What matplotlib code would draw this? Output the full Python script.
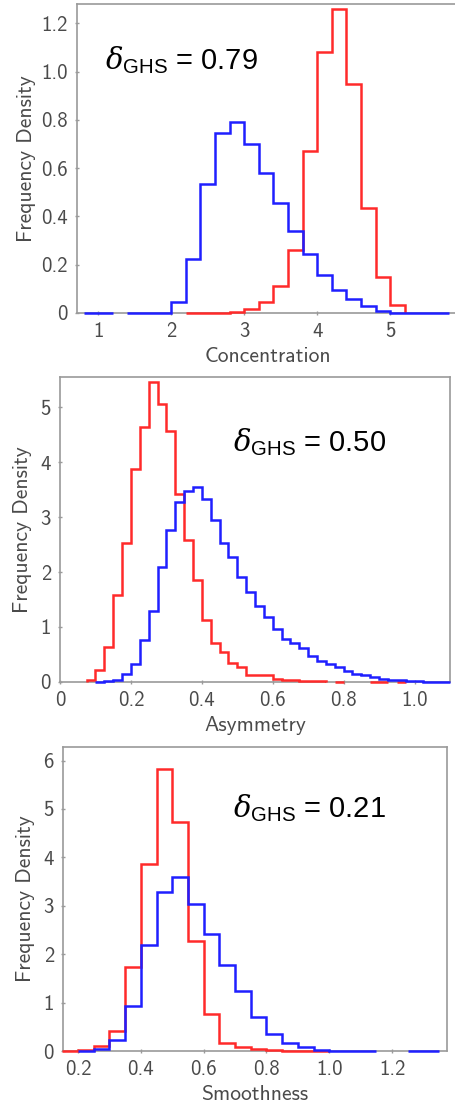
import numpy as np
import matplotlib
matplotlib.use("Agg")
import matplotlib.pyplot as plt

plt.rcParams["mathtext.fontset"] = "custom"
plt.rcParams["mathtext.rm"] = "Liberation Sans"
plt.rcParams["mathtext.it"] = "DejaVu Serif:italic"

RED = "#ff2a2a"
BLUE = "#1f1fff"
GREY = "#4a4a4a"
SPINE = "#9a9a9a"

# ── data ────────────────────────────────────────────────────────────────
# Concentration (bin width 0.2)
conc_red_edges = np.round(np.arange(2.2, 5.2 + 1e-9, 0.2), 3)
conc_red = [0.001, 0.001, 0.002, 0.004, 0.017, 0.044, 0.113, 0.26,
            0.669, 1.083, 1.258, 0.948, 0.434, 0.149, 0.034]
conc_blue_edges = np.round(np.arange(0.8, 5.8 + 1e-9, 0.2), 3)
conc_blue = [0, 0, np.nan, 0, 0, 0, 0.045, 0.223, 0.534, 0.745, 0.793,
             0.70, 0.579, 0.455, 0.338, 0.246, 0.159, 0.097, 0.058, 0.028,
             0.01, 0.002, 0, 0, 0]

# Asymmetry (bin width 0.025)
asym_red_edges = np.round(np.arange(0.075, 1.0 + 1e-9, 0.025), 4)
asym_red = [0.03, 0.21, 0.64, 1.58, 2.52, 3.88, 4.64, 5.45, 5.06, 4.56,
            3.42, 2.59, 1.85, 1.12, 0.71, 0.55, 0.35, 0.28, 0.12, 0.12,
            0.12, 0.06, 0.04, 0.03, 0.02, 0.015, 0.01, np.nan, 0.005, np.nan,
            np.nan, np.nan, 0.005, 0.005, np.nan, 0.005, np.nan]
asym_blue_edges = np.round(np.arange(0.1, 1.1 + 1e-9, 0.025), 4)
asym_blue = [0.0, 0.01, 0.03, 0.15, 0.33, 0.77, 1.29, 2.10, 2.76, 3.27,
             3.47, 3.55, 3.33, 2.95, 2.52, 2.27, 1.91, 1.64, 1.38, 1.18,
             0.97, 0.79, 0.70, 0.61, 0.48, 0.39, 0.33, 0.27, 0.20, 0.15,
             0.12, 0.09, 0.06, 0.04, 0.03, 0.02, 0.01, 0.005, 0.005, 0.003]

# Smoothness (bin width 0.05)
smooth_red_edges = np.round(np.arange(0.15, 1.0 + 1e-9, 0.05), 3)
smooth_red = [0.01, 0.03, 0.10, 0.41, 1.73, 3.87, 5.82, 4.74, 2.28, 0.77,
              0.17, 0.08, 0.05, 0.03, 0.01, 0.003, 0.002]
smooth_blue_edges = np.round(np.arange(0.2, 1.35 + 1e-9, 0.05), 3)
smooth_blue = [0.01, 0.05, 0.22, 0.92, 2.18, 3.28, 3.59, 3.04, 2.41, 1.78,
               1.23, 0.70, 0.36, 0.17, 0.08, 0.03, 0.01, 0.005, 0.005,
               np.nan, np.nan, 0.005, 0.005]

conc_xticks = [1, 2, 3, 4, 5]
conc_yticks = [0, 0.2, 0.4, 0.6, 0.8, 1.0, 1.2]
conc_ylabels = ["0", "0.2", "0.4", "0.6", "0.8", "1.0", "1.2"]
asym_xticks = [0, 0.2, 0.4, 0.6, 0.8, 1.0]
asym_xlabels = ["0", "0.2", "0.4", "0.6", "0.8", "1.0"]
asym_yticks = [0, 1, 2, 3, 4, 5]
smooth_xticks = [0.2, 0.4, 0.6, 0.8, 1.0, 1.2]
smooth_xlabels = ["0.2", "0.4", "0.6", "0.8", "1.0", "1.2"]
smooth_yticks = [0, 1, 2, 3, 4, 5, 6]

panels = [
    dict(rect=[0.1692, 0.7170, 0.8374, 0.2794], xlim=(0.71, 5.93), ylim=(0, 1.28),
         red=(conc_red, conc_red_edges), blue=(conc_blue, conc_blue_edges),
         xticks=conc_xticks, xlabels=[str(v) for v in conc_xticks],
         yticks=conc_yticks, ylabels=conc_ylabels,
         xlabel="Concentration", delta="0.79", tpos=(0.073, 0.819), ylpad=4),
    dict(rect=[0.1319, 0.3834, 0.8571, 0.2758], xlim=(0, 1.10), ylim=(0, 5.55),
         red=(asym_red, asym_red_edges), blue=(asym_blue, asym_blue_edges),
         xticks=asym_xticks, xlabels=asym_xlabels,
         yticks=asym_yticks, ylabels=[str(v) for v in asym_yticks],
         xlabel="Asymmetry", delta="0.50", tpos=(0.444, 0.787), ylpad=6),
    dict(rect=[0.1385, 0.0497, 0.8440, 0.2749], xlim=(0.152, 1.375), ylim=(0, 6.28),
         red=(smooth_red, smooth_red_edges), blue=(smooth_blue, smooth_blue_edges),
         xticks=smooth_xticks, xlabels=smooth_xlabels,
         yticks=smooth_yticks, ylabels=[str(v) for v in smooth_yticks],
         xlabel="Smoothness", delta="0.21", tpos=(0.443, 0.80), ylpad=6),
]

fig = plt.figure(figsize=(4.55, 11.06), dpi=100)

for p in panels:
    ax = fig.add_axes(p["rect"])
    vals, edges = p["red"]
    ax.stairs(vals, edges, color=RED, lw=1.8, zorder=3, clip_on=False)
    vals, edges = p["blue"]
    ax.stairs(vals, edges, color=BLUE, lw=1.8, zorder=3, clip_on=False)
    ax.set_xlim(*p["xlim"])
    ax.set_ylim(*p["ylim"])
    ax.set_xticks(p["xticks"], p["xlabels"])
    ax.set_yticks(p["yticks"], p["ylabels"])
    for s in ax.spines.values():
        s.set_color(SPINE)
        s.set_linewidth(1.2)
    ax.tick_params(direction="inout", length=3, width=1, color=SPINE,
                   labelsize=15, labelcolor=GREY, pad=5)
    for lab in ax.get_xticklabels() + ax.get_yticklabels():
        lab.set_family("cmss10")
    ax.set_xlabel(p["xlabel"], family="cmss10", fontsize=15.5, color=GREY, labelpad=4)
    ax.set_ylabel("Frequency Density", family="cmss10", fontsize=15.5, color=GREY,
                  labelpad=p["ylpad"])
    ax.text(p["tpos"][0], p["tpos"][1], r"$\delta_{\rm GHS}$ = " + p["delta"],
            transform=ax.transAxes, family="Liberation Sans", fontsize=21,
            va="center", ha="left", color="black")

fig.savefig("out.png", dpi=100)
